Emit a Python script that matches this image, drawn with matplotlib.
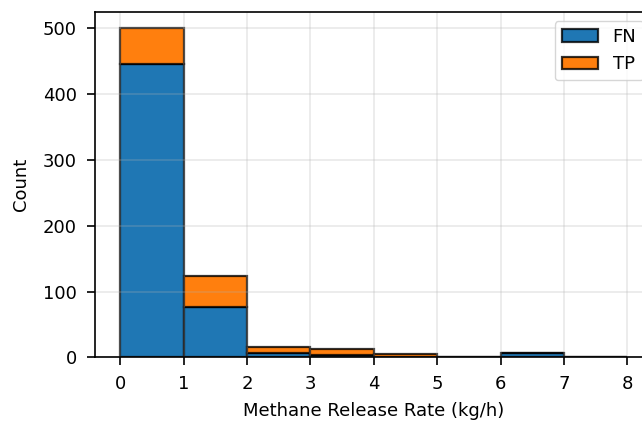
import numpy as np
import matplotlib
matplotlib.use("Agg")
import matplotlib.pyplot as plt

# counts per 1 kg/h release-rate bin
bin_edges = [0, 1, 2, 3, 4, 5, 6, 7, 8]
fn_counts = [446, 77, 6, 3, 1, 0, 6, 0]
tp_counts = [54, 46, 10, 10, 4, 0, 0, 0]
labels = ["FN", "TP"]
colors = ["#1f77b4", "#ff7f0e"]

centers = [(a + b) / 2 for a, b in zip(bin_edges[:-1], bin_edges[1:])]

fig = plt.figure(figsize=(6.42, 4.24), dpi=100)
ax = fig.add_axes([0.148, 0.1573, 0.8685, 0.8147])

ax.hist([centers, centers], bins=bin_edges, weights=[fn_counts, tp_counts],
        stacked=True, color=colors, label=labels,
        edgecolor=(0, 0, 0, 0.8), linewidth=1.6)

for spine in ax.spines.values():
    spine.set_linewidth(1.2)

ax.set_xticks(bin_edges)
ax.set_xlabel("Methane Release Rate (kg/h)", fontsize=13, labelpad=6)
ax.set_ylabel("Count", fontsize=13, labelpad=9)
ax.tick_params(labelsize=13, length=6, width=1.2, pad=7)
ax.grid(True, alpha=0.3, linewidth=1.1)
leg = ax.legend(loc="upper right", fontsize=13)

fig.savefig("out.png", dpi=100)
